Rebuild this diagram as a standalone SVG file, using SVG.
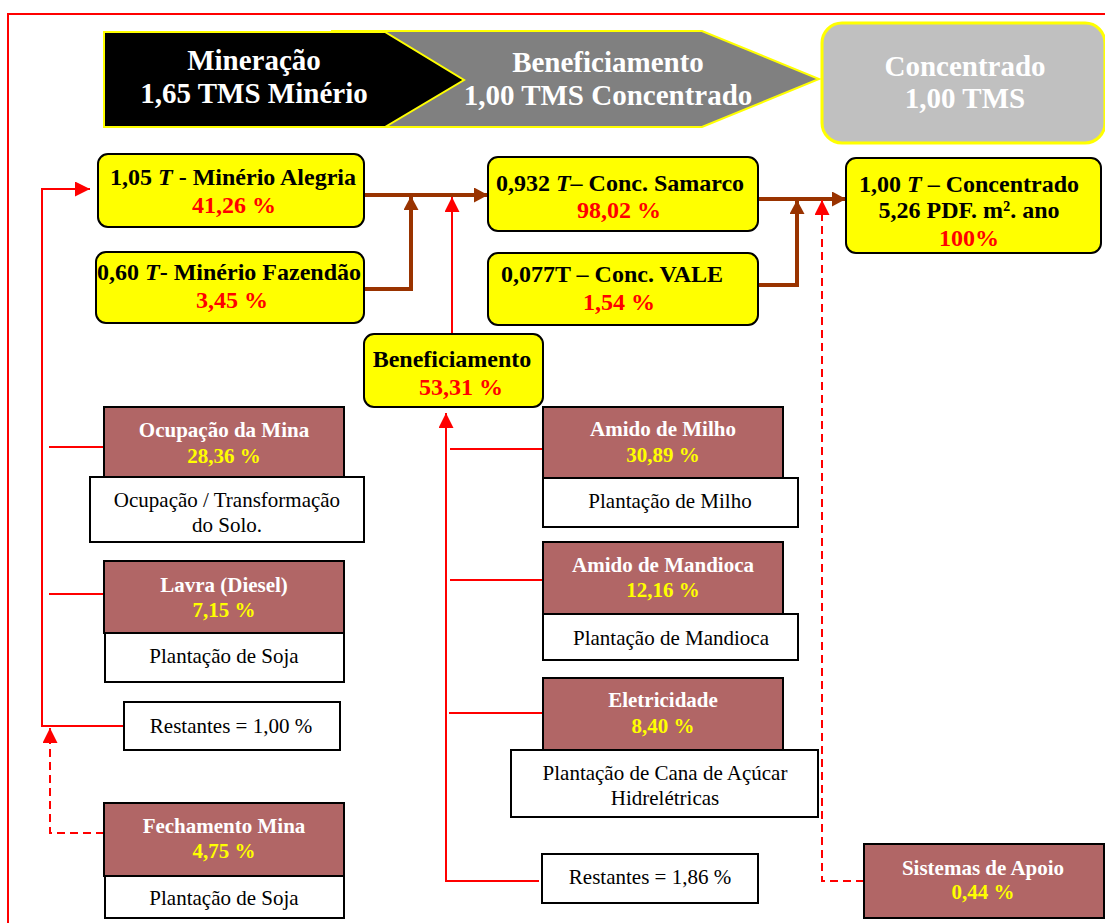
<svg xmlns="http://www.w3.org/2000/svg" width="1105" height="923" viewBox="0 0 1105 923">
  <style>
    text { font-family: "Liberation Serif", "Times New Roman", serif; text-anchor: middle; }
    .hdr { font-size: 29px; font-weight: bold; fill: #ffffff; }
    .yl { fill: #ffff00; stroke: #000000; stroke-width: 2; }
    .yt { font-size: 24px; font-weight: bold; fill: #000000; }
    .pr { font-size: 24px; font-weight: bold; fill: #ff0000; }
    .bx { fill: #b16666; stroke: #000000; stroke-width: 2; }
    .bt { font-size: 21px; font-weight: bold; fill: #ffffff; }
    .bp { font-size: 21px; font-weight: bold; fill: #ffff00; }
    .wb { fill: #ffffff; stroke: #000000; stroke-width: 2; }
    .wt { font-size: 21px; fill: #000000; }
    .brown { fill: none; stroke: #993300; stroke-width: 4; marker-end: url(#ah-brown); }
    .red { fill: none; stroke: #ff0000; stroke-width: 2; }
    .redarrow { marker-end: url(#ah-red); }
    .dash { stroke-dasharray: 8 5; }
  </style>
  <defs>
    <marker id="ah-brown" viewBox="0 0 14 15" refX="14" refY="7.5" markerWidth="14" markerHeight="15" markerUnits="userSpaceOnUse" orient="auto">
      <path d="M0,0 L14,7.5 L0,15 z" fill="#993300"/>
    </marker>
    <marker id="ah-red" viewBox="0 0 15 15" refX="15" refY="7.5" markerWidth="15" markerHeight="15" markerUnits="userSpaceOnUse" orient="auto">
      <path d="M0,0 L15,7.5 L0,15 z" fill="#ff0000"/>
    </marker>
  </defs>

  <rect width="1105" height="923" fill="#ffffff"/>
  <!-- frame -->
  <rect x="8" y="14" width="1110" height="930" fill="none" stroke="#ff0000" stroke-width="2"/>

  <!-- process stages -->
  <g id="stage-beneficiamento">
    <polygon points="332,31 702,31 819,79 702,127 332,127" fill="#808080" stroke="#ffff00" stroke-width="2"/>
    <text class="hdr" x="608" y="72">Beneficiamento</text>
    <text class="hdr" x="608" y="105">1,00 TMS Concentrado</text>
  </g>
  <g id="stage-mineracao">
    <polygon points="104,32 385,32 464,80 385,127 104,127" fill="#000000" stroke="#ffff00" stroke-width="2"/>
    <text class="hdr" x="254" y="70">Mineração</text>
    <text class="hdr" x="254" y="103">1,65 TMS Minério</text>
  </g>
  <g id="stage-concentrado">
    <rect x="822" y="23" width="283" height="120" rx="20" fill="#c0c0c0" stroke="#ffff00" stroke-width="3"/>
    <text class="hdr" x="965" y="76">Concentrado</text>
    <text class="hdr" x="965" y="108">1,00 TMS</text>
  </g>

  <!-- connectors -->
  <g id="connectors">
    <path class="brown" d="M364,195 H488"/>
    <path class="brown" d="M364,289 H411 V196"/>
    <path class="brown" d="M758,199 H846"/>
    <path class="brown" d="M758,285 H797 V200"/>

    <path class="red redarrow" d="M452,334 V197"/>
    <path class="red redarrow" d="M124,726 H42 V189 H90"/>
    <path class="red" d="M49,447 H104"/>
    <path class="red" d="M49,594 H104"/>
    <path class="red redarrow" d="M539,881 H446 V413"/>
    <path class="red" d="M450,449 H543"/>
    <path class="red" d="M450,580 H543"/>
    <path class="red" d="M449,713 H543"/>

    <path class="red dash redarrow" d="M104,833 H50 V728"/>
    <path class="red dash redarrow" d="M864,881 H822 V200"/>
  </g>

  <!-- ore and concentrate nodes -->
  <g id="minerio-alegria">
    <rect class="yl" x="98" y="154" width="266" height="73" rx="10"/>
    <text class="yt" x="233" y="185">1,05 <tspan font-style="italic">T</tspan> - Minério Alegria</text>
    <text class="pr" x="234" y="213">41,26 %</text>
  </g>
  <g id="minerio-fazendao">
    <rect class="yl" x="96" y="252" width="268" height="71" rx="10"/>
    <text class="yt" x="229" y="280">0,60 <tspan font-style="italic">T</tspan>- Minério Fazendão</text>
    <text class="pr" x="232" y="308">3,45 %</text>
  </g>
  <g id="beneficiamento">
    <rect class="yl" x="364" y="334" width="179" height="73" rx="10"/>
    <text class="yt" x="452" y="367">Beneficiamento</text>
    <text class="pr" x="461" y="395">53,31 %</text>
  </g>
  <g id="conc-samarco">
    <rect class="yl" x="488" y="157" width="270" height="74" rx="10"/>
    <text class="yt" x="620" y="191">0,932 <tspan font-style="italic">T</tspan>– Conc. Samarco</text>
    <text class="pr" x="619" y="218">98,02 %</text>
  </g>
  <g id="conc-vale">
    <rect class="yl" x="488" y="253" width="270" height="72" rx="10"/>
    <text class="yt" x="612" y="282">0,077T – Conc. VALE</text>
    <text class="pr" x="619" y="310">1,54 %</text>
  </g>
  <g id="concentrado">
    <rect class="yl" x="846" y="158" width="255" height="95" rx="10"/>
    <text class="yt" x="969" y="192">1,00 <tspan font-style="italic">T</tspan> – Concentrado</text>
    <text class="yt" x="969" y="218">5,26 PDF. m². ano</text>
    <text class="pr" x="969" y="246">100%</text>
  </g>

  <!-- mining contributions -->
  <g id="ocupacao-mina">
    <rect class="bx" x="104" y="407" width="240" height="71"/>
    <text class="bt" x="224" y="437">Ocupação da Mina</text>
    <text class="bp" x="224" y="463">28,36 %</text>
    <rect class="wb" x="90" y="477" width="274" height="65"/>
    <text class="wt" x="227" y="507">Ocupação / Transformação</text>
    <text class="wt" x="227" y="532">do Solo.</text>
  </g>
  <g id="lavra-diesel">
    <rect class="bx" x="104" y="561" width="240" height="72"/>
    <text class="bt" x="224" y="592">Lavra (Diesel)</text>
    <text class="bp" x="224" y="617">7,15 %</text>
    <rect class="wb" x="105" y="633" width="239" height="49"/>
    <text class="wt" x="224" y="663">Plantação de Soja</text>
  </g>
  <g id="restantes-mina">
    <rect class="wb" x="124" y="702" width="216" height="48"/>
    <text class="wt" x="231" y="733">Restantes = 1,00 %</text>
  </g>
  <g id="fechamento-mina">
    <rect class="bx" x="104" y="803" width="240" height="73"/>
    <text class="bt" x="224" y="833">Fechamento Mina</text>
    <text class="bp" x="224" y="858">4,75 %</text>
    <rect class="wb" x="105" y="876" width="239" height="42"/>
    <text class="wt" x="224" y="905">Plantação de Soja</text>
  </g>

  <!-- beneficiation contributions -->
  <g id="amido-milho">
    <rect class="bx" x="543" y="407" width="240" height="71"/>
    <text class="bt" x="663" y="436">Amido de Milho</text>
    <text class="bp" x="663" y="462">30,89 %</text>
    <rect class="wb" x="543" y="478" width="255" height="49"/>
    <text class="wt" x="670" y="508">Plantação de Milho</text>
  </g>
  <g id="amido-mandioca">
    <rect class="bx" x="543" y="542" width="240" height="72"/>
    <text class="bt" x="663" y="572">Amido de Mandioca</text>
    <text class="bp" x="663" y="597">12,16 %</text>
    <rect class="wb" x="543" y="614" width="255" height="46"/>
    <text class="wt" x="671" y="645">Plantação de Mandioca</text>
  </g>
  <g id="eletricidade">
    <rect class="bx" x="543" y="678" width="240" height="72"/>
    <text class="bt" x="663" y="707">Eletricidade</text>
    <text class="bp" x="663" y="733">8,40 %</text>
    <rect class="wb" x="511" y="750" width="307" height="67"/>
    <text class="wt" x="665" y="780">Plantação de Cana de Açúcar</text>
    <text class="wt" x="665" y="805">Hidrelétricas</text>
  </g>
  <g id="restantes-beneficiamento">
    <rect class="wb" x="542" y="854" width="216" height="49"/>
    <text class="wt" x="650" y="884">Restantes = 1,86 %</text>
  </g>
  <g id="sistemas-apoio">
    <rect class="bx" x="864" y="844" width="240" height="74"/>
    <text class="bt" x="983" y="875">Sistemas de Apoio</text>
    <text class="bp" x="983" y="899">0,44 %</text>
  </g>
</svg>
